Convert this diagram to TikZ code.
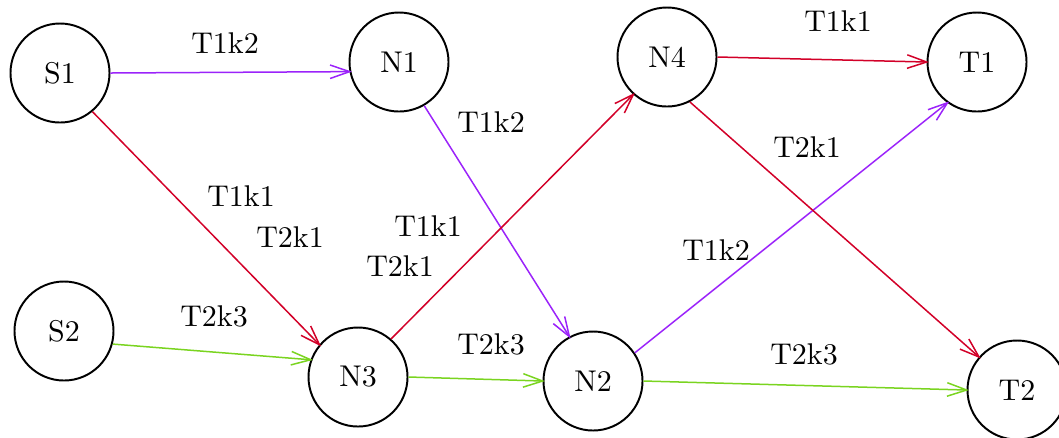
\documentclass[tikz,border=0pt]{standalone}
\usetikzlibrary{arrows.meta}
\definecolor{flowviolet}{RGB}{155,35,250}
\definecolor{flowred}{RGB}{210,0,40}
\definecolor{flowgreen}{RGB}{122,212,32}
\begin{document}
\begin{tikzpicture}[x=0.3333pt,y=-0.3333pt,
  station/.style={draw, circle, line width=0.65pt, minimum size=33pt, inner sep=0pt},
  flow/.style={line width=0.5pt, shorten >=-0.8pt, -{Straight Barb[length=6.5pt,width=4.5pt]}},
  lab/.style={inner sep=0pt}]
\useasboundingbox (0,0) rectangle (1059,437);

% stations
\node[station] (s1) at (60,73)   {S1};
\node[station] (s2) at (64,331)  {S2};
\node[station] (n1) at (399,62)  {N1};
\node[station] (n2) at (593,381) {N2};
\node[station] (n3) at (358,377) {N3};
\node[station] (n4) at (667,57)  {N4};
\node[station] (t1) at (977,62)  {T1};
\node[station] (t2) at (1017,390) {T2};

% flows (anchor angles are measured on the page, counter-clockwise)
\draw[flow, flowviolet] (s1.0)   -- (n1.191);
\draw[flow, flowviolet] (n1.-60) -- (n2.118);
\draw[flow, flowviolet] (n2.34)  -- (t1.-126);
\draw[flow, flowred] (s1.-50) -- (n3.140);
\draw[flow, flowred] (n3.49)  -- (n4.-132);
\draw[flow, flowred] (n4.0)   -- (t1.180);
\draw[flow, flowred] (n4.-63) -- (t2.139);
\draw[flow, flowgreen] (s2.-15) -- (n3.160);
\draw[flow, flowgreen] (n3.0)   -- (n2.180);
\draw[flow, flowgreen] (n2.0)   -- (t2.180);

% flow labels
\node[lab] (l1)  at (225,43)  {T1k2};
\node[lab] (l2)  at (491,122) {T1k2};
\node[lab] (l3)  at (241,196) {T1k1};
\node[lab] (l4)  at (290,237) {T2k1};
\node[lab] (l5)  at (214,316) {T2k3};
\node[lab] (l6)  at (428,226) {T1k1};
\node[lab] (l7)  at (400,266) {T2k1};
\node[lab] (l8)  at (491,344) {T2k3};
\node[lab] (l9)  at (838,21)  {T1k1};
\node[lab] (l10) at (807,147) {T2k1};
\node[lab] (l11) at (716,250) {T1k2};
\node[lab] (l12) at (804,354) {T2k3};
\end{tikzpicture}
\end{document}
